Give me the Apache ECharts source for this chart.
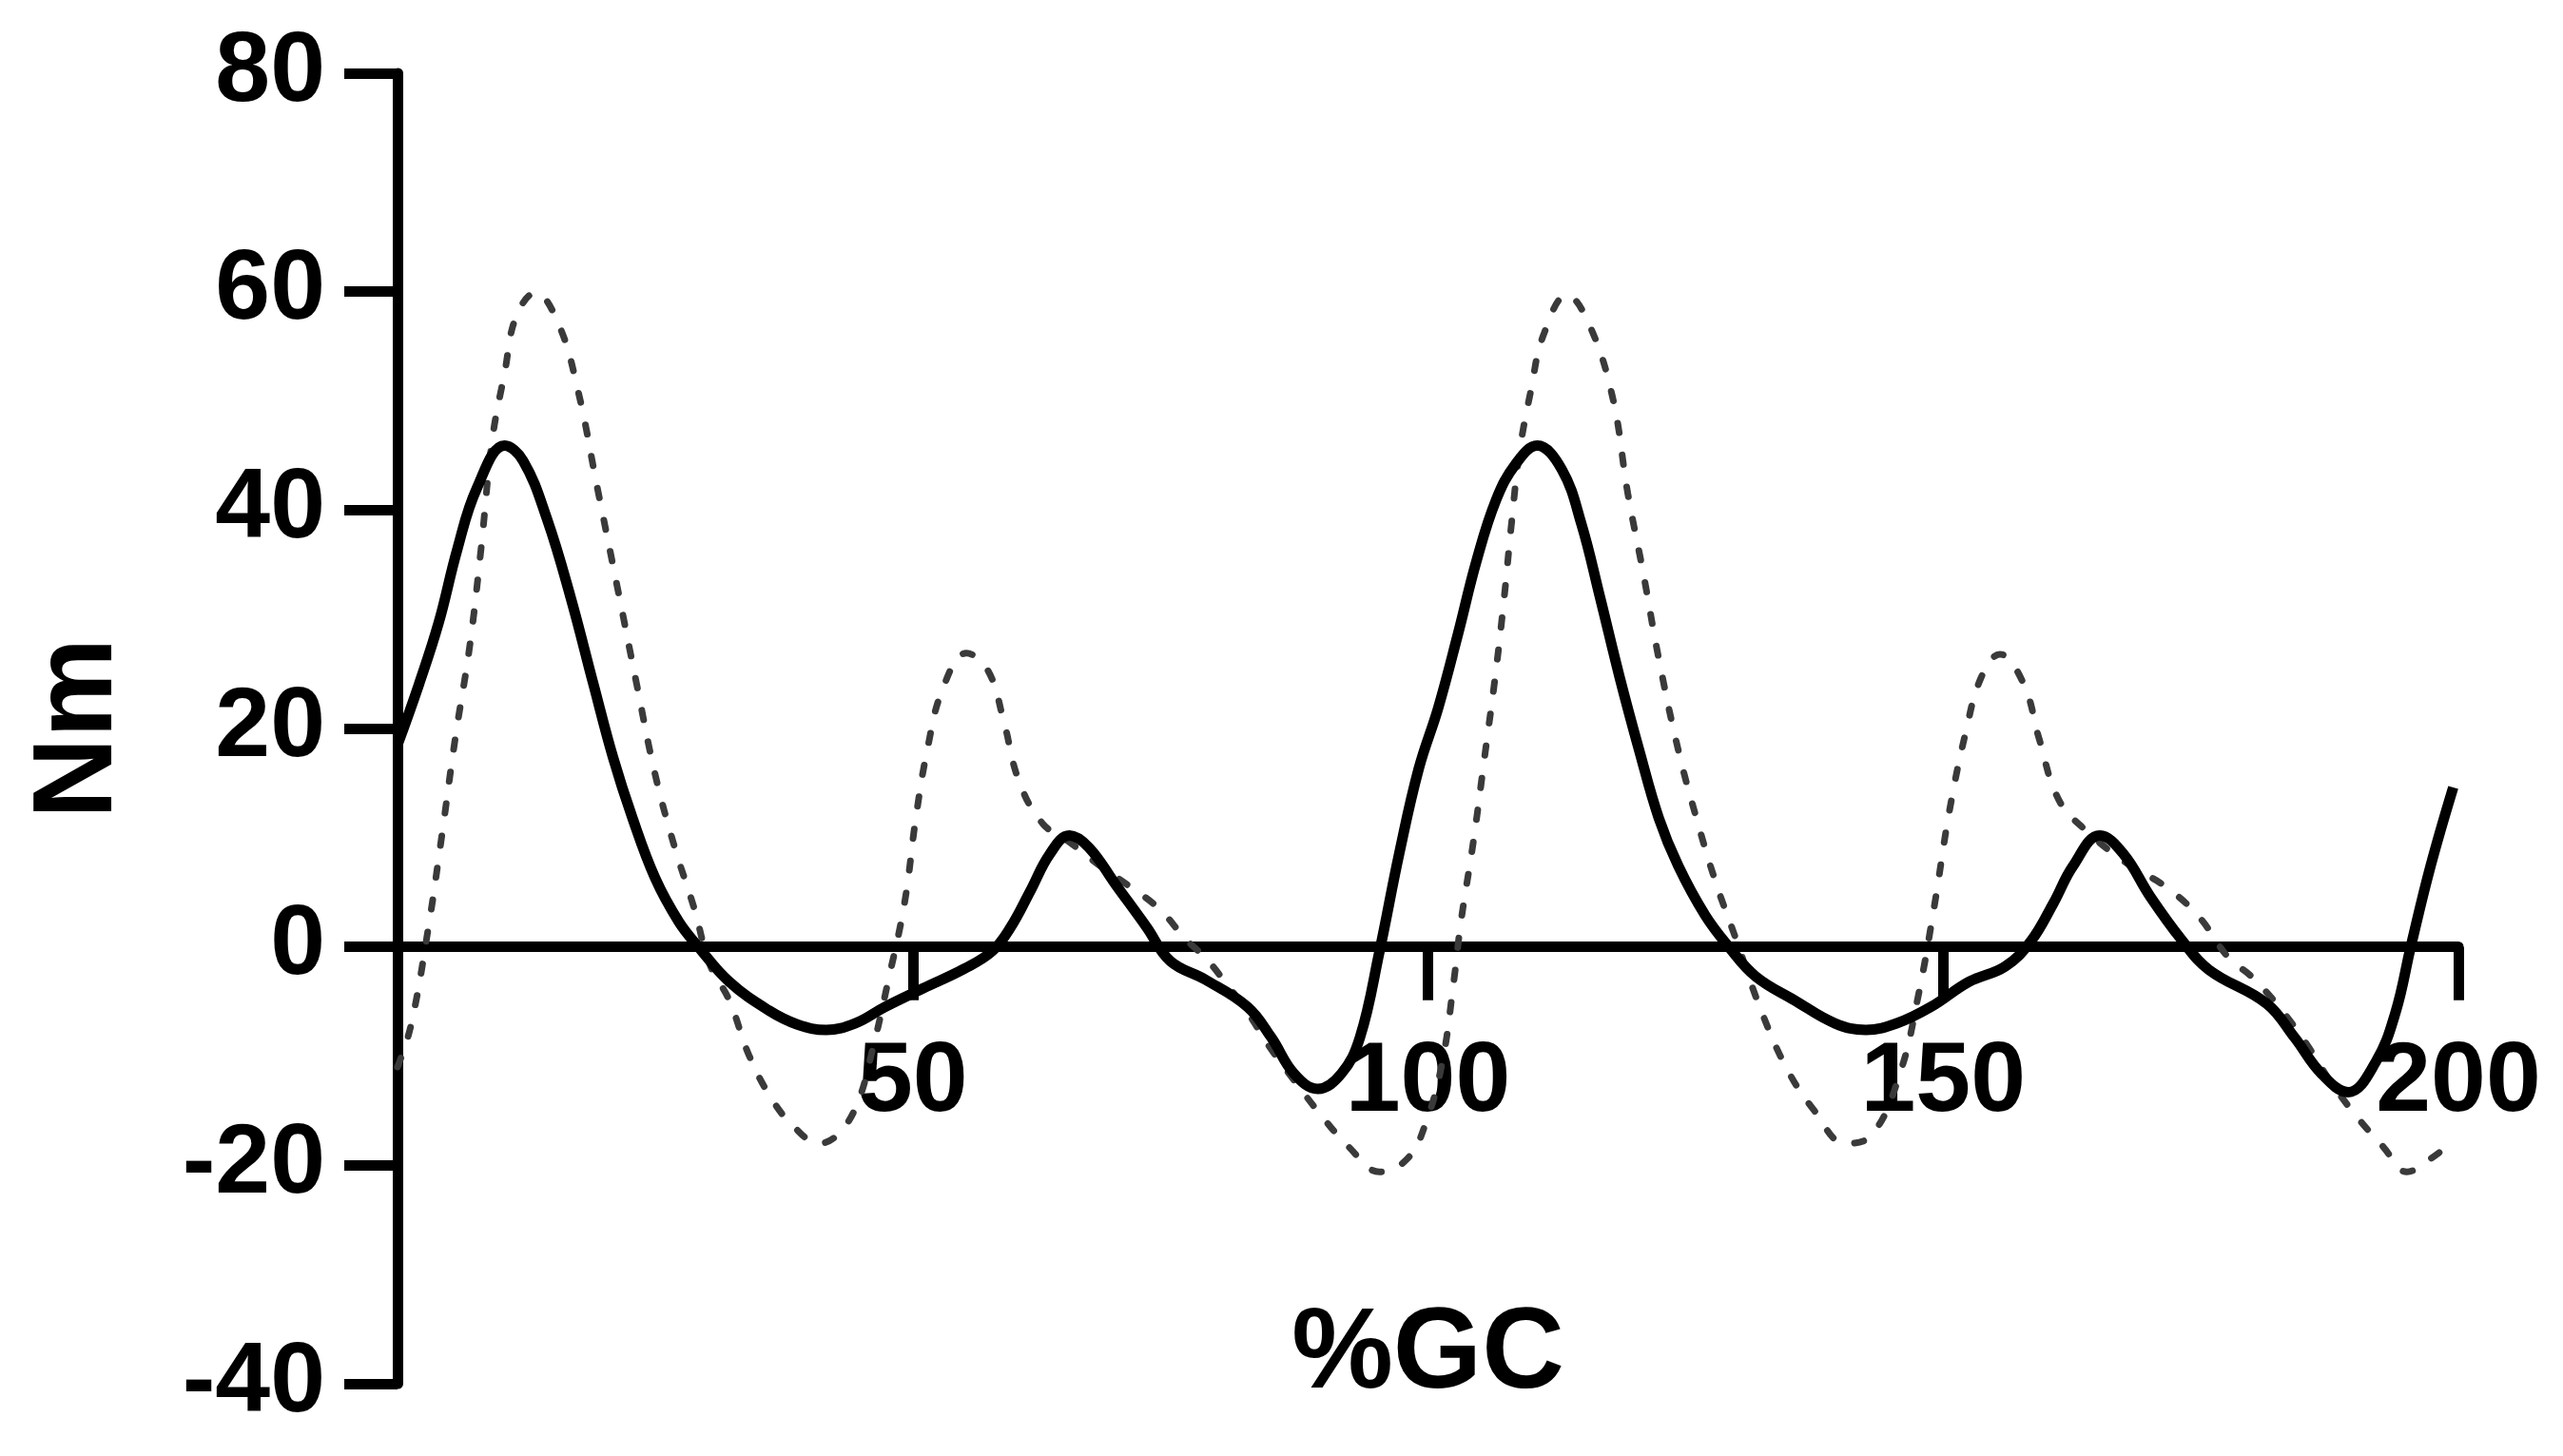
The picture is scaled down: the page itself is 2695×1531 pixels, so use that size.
<!DOCTYPE html>
<html>
<head>
<meta charset="utf-8">
<script src="https://cdn.jsdelivr.net/npm/echarts@6/dist/echarts.min.js"></script>
<style>
html,body{margin:0;padding:0;background:#fff;}
#chart{width:2695px;height:1531px;}
</style>
</head>
<body>
<div id="chart"></div>
<script>
// Solid curve (x = %GC, y = Nm)
var solidX = [0, 2.1, 4.0, 5.8, 7.7, 10.4, 12.2, 14.5, 16.8, 19, 20.9, 22.8, 25, 27.3, 29.2, 32.2, 36, 38.8, 41.6, 44.4, 47.3, 51, 55, 57.7, 59.5, 61.4, 63.3, 65.2, 67.1, 69.7, 72.7, 75, 78.4, 82.5, 84.8, 87, 89.3, 91.6, 93.4, 95.3, 97.2, 99.1, 101, 102.9, 104.7, 106.6, 108.5, 110.6, 113, 114.9, 116.7, 118.6, 120.5, 122.4, 124.3, 126.9, 129.2, 131.8, 135.6, 139.5, 142.5, 145.5, 148.8, 152.5, 156, 158.5, 160.7, 162.6, 165.2, 167.5, 170.1, 173.1, 175.8, 181.4, 184.1, 186.7, 189.3, 192, 193.9, 195.4, 197.3, 199.5];
var solidY = [18.5, 24.1, 29.7, 36.4, 42, 45.9, 44.5, 39.2, 32, 24.1, 17.4, 11.8, 6.3, 2.3, 0, -3.2, -5.8, -7.1, -7.6, -7.0, -5.5, -3.8, -2, -0.4, 1.8, 5.1, 8.5, 10.2, 9.1, 5.7, 1.8, -1.3, -3, -5.5, -8.3, -11.6, -13, -11.6, -8.3, -0.4, 8.5, 16.3, 21.9, 28.6, 35.3, 40.9, 44.2, 45.9, 43.7, 38.7, 32, 24.7, 18, 11.8, 7.4, 2.9, 0, -2.7, -4.9, -7.0, -7.6, -7.0, -5.5, -3.2, -1.8, 0.5, 4, 7.4, 10.2, 8.5, 4.6, 0.7, -2.1, -5.2, -8.3, -11.6, -13.3, -10.5, -6, 0.1, 7.4, 14.6];

// Dotted curve
var dashX = [0, 1.3, 3, 4.3, 5.6, 7, 8.1, 9.2, 10.4, 11.5, 13.4, 15.6, 17.5, 19.4, 21.3, 23.2, 25, 26.9, 28.8, 30.3, 32.2, 34.1, 36.3, 38.6, 40.9, 42.7, 44.6, 46.1, 47.6, 49.2, 50.3, 51.4, 52.9, 55.2, 57.3, 58.8, 60.3, 62.6, 65.2, 68.2, 70.8, 73.9, 76.5, 78.4, 80.3, 82.5, 84.8, 87, 89.7, 92.3, 95.3, 98, 99.8, 101.4, 102.5, 103.2, 104.4, 105.5, 106.6, 107.4, 108.1, 108.9, 110, 111.2, 113.5, 115.6, 117.9, 119.4, 120.9, 122.4, 124.3, 126.2, 128, 129.9, 132.2, 134.8, 137.5, 140.5, 143.1, 145.8, 147.6, 149.1, 150.6, 152.2, 153.7, 155.5, 157.8, 159.3, 161.2, 163.8, 168.2, 171.3, 174.7, 177.7, 179.9, 182.6, 185.2, 187.5, 190.1, 192.7, 195, 197.3, 199.5];
var dashY = [-11, -7.2, 1.8, 10.2, 19.1, 27.5, 36.4, 46.5, 52.6, 57.7, 59.9, 57.1, 51, 42, 33.1, 24.1, 15.8, 9.1, 3.5, -1.6, -4.9, -9.9, -13.9, -16.6, -18, -17.2, -14.4, -9.4, -3.2, 4, 11.8, 18, 23.6, 26.9, 25.3, 20.8, 15.2, 11.3, 9.6, 7.4, 5.7, 3.5, 0.7, -1, -3.2, -6, -9.4, -12.2, -15.5, -18.3, -20.6, -19.4, -16.1, -10.5, -3.2, 2.3, 9.6, 17.4, 25.3, 32, 38.7, 45.4, 51, 56, 59.7, 57.1, 50.4, 41.5, 34.2, 26.4, 18, 11.3, 5.7, 0.7, -5.5, -11.1, -15, -18, -17.2, -11.6, -4.4, 3.5, 12.4, 19.7, 24.7, 26.8, 24.1, 19.1, 13.5, 10.7, 7.4, 5.7, 2.9, -1, -2.7, -5.5, -8.8, -12.2, -15.5, -18.3, -20.6, -19.4, -17.8];

var xTicks = {min: 0, max: 200, interval: 50};
var yTicks = {min: -40, max: 80, interval: 20};
var xName = '%GC';
var yName = 'Nm';

function zip(xs, ys) { return xs.map(function (x, i) { return [x, ys[i]]; }); }

var font = 'Liberation Sans, Arial, Helvetica, sans-serif';
var chart = echarts.init(document.getElementById('chart'));
chart.setOption({
  animation: false,
  backgroundColor: '#ffffff',
  grid: {left: 418, right: 110, top: 77, bottom: 76, containLabel: false, outerBoundsMode: 'none'},
  xAxis: {
    type: 'value', min: xTicks.min, max: xTicks.max, interval: xTicks.interval,
    name: xName, nameLocation: 'middle', nameGap: -89,
    nameTextStyle: {fontSize: 120, fontWeight: 'bold', color: '#000', fontFamily: font},
    axisLine: {onZero: true, lineStyle: {color: '#000', width: 11}},
    axisTick: {show: true, length: 56, lineStyle: {color: '#000', width: 11}},
    axisLabel: {
      fontSize: 104, fontWeight: 'bold', color: '#000', fontFamily: font, margin: -368,
      formatter: function (v) { return v === 0 ? '' : String(v); }
    },
    splitLine: {show: false}
  },
  yAxis: {
    type: 'value', min: yTicks.min, max: yTicks.max, interval: yTicks.interval,
    name: yName, nameLocation: 'middle', nameGap: 275, nameRotate: 90,
    nameTextStyle: {fontSize: 118, fontWeight: 'bold', color: '#000', fontFamily: font},
    axisLine: {onZero: false, lineStyle: {color: '#000', width: 11}},
    axisTick: {show: true, length: 56, lineStyle: {color: '#000', width: 11}},
    axisLabel: {fontSize: 104, fontWeight: 'bold', color: '#000', fontFamily: font, margin: 76},
    splitLine: {show: false}
  },
  series: [
    {
      name: 'Dotted', type: 'line', data: zip(dashX, dashY), smooth: 0.4,
      showSymbol: false, symbol: 'none',
      lineStyle: {color: '#3a3a3a', width: 7, type: [10, 24], cap: 'round'},
      z: 2
    },
    {
      name: 'Solid', type: 'line', data: zip(solidX, solidY), smooth: 0.4,
      showSymbol: false, symbol: 'none',
      lineStyle: {color: '#000', width: 11},
      z: 3
    }
  ]
});
</script>
</body>
</html>
